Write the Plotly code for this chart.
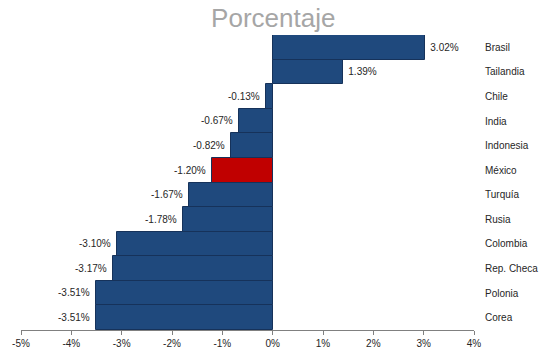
import plotly.graph_objects as go

countries = ["Brasil", "Tailandia", "Chile", "India", "Indonesia", "México",
             "Turquía", "Rusia", "Colombia", "Rep. Checa", "Polonia", "Corea"]
values = [3.02, 1.39, -0.13, -0.67, -0.82, -1.20, -1.67, -1.78, -3.10, -3.17, -3.51, -3.51]
tick_vals = [-5, -4, -3, -2, -1, 0, 1, 2, 3, 4]
tick_text = [f"{v}%" for v in tick_vals]

colors = ["#C00000" if c == "México" else "#1F497D" for c in countries]
labels = [f" {v:.2f}%" if v > 0 else f"{v:.2f}% " for v in values]

fig = go.Figure(go.Bar(
    x=values, y=countries, orientation="h",
    marker=dict(color=colors, line=dict(color="#16325A", width=1)),
    text=labels, textposition="outside", cliponaxis=False,
    textfont=dict(family="Liberation Sans", size=10, color="#262626"),
))

fig.update_layout(
    width=539, height=352,
    margin=dict(l=21, r=65, t=35, b=22),
    paper_bgcolor="white", plot_bgcolor="white",
    bargap=0, showlegend=False,
    title=dict(text="Porcentaje", x=0.507, xanchor="center", y=0.948, yanchor="middle",
               yref="container", xref="container",
               font=dict(family="Liberation Sans", size=26, color="#A6A6A6")),
    xaxis=dict(range=[-5, 4], tickvals=tick_vals, ticktext=tick_text, automargin=False,
               showgrid=False, zeroline=False, showline=True, linecolor="#808080",
               ticks="outside", ticklen=4, tickcolor="#808080",
               tickfont=dict(family="Liberation Sans", size=10, color="#262626")),
    yaxis=dict(autorange="reversed", side="right", showgrid=False, zeroline=False,
               showline=False, ticks="", ticklabelstandoff=10, automargin=False,
               tickfont=dict(family="Liberation Sans", size=10, color="#262626")),
    font=dict(family="Liberation Sans"),
)

fig.write_html("out.html")
